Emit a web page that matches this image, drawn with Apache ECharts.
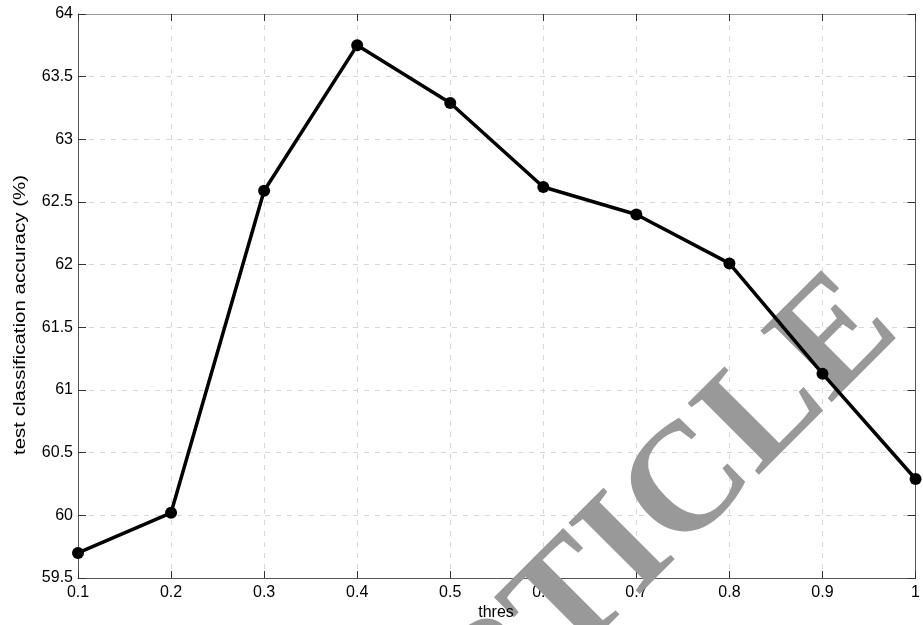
<!DOCTYPE html>
<html>
<head>
<meta charset="utf-8">
<script src="https://cdn.jsdelivr.net/npm/echarts@6/dist/echarts.min.js"></script>
<style>html,body{margin:0;padding:0;background:#fff}#c{width:923px;height:625px}</style>
</head>
<body>
<div id="c"></div>
<script>
var thres = [0.1, 0.2, 0.3, 0.4, 0.5, 0.6, 0.7, 0.8, 0.9, 1.0];
var accuracy = [59.70, 60.02, 62.59, 63.75, 63.29, 62.62, 62.40, 62.01, 61.13, 60.29];
var xTicks = [0.1, 0.2, 0.3, 0.4, 0.5, 0.6, 0.7, 0.8, 0.9, 1];
var yTicks = [59.5, 60, 60.5, 61, 61.5, 62, 62.5, 63, 63.5, 64];
var xName = 'thres';
var yName = 'test classification accuracy (%)';
var watermark = 'ARTICLE';

var chart = echarts.init(document.getElementById('c'));
var font = 'Liberation Sans, Arial, sans-serif';
var axisCol = '#555';
var grid = {left: 78, right: 7, top: 14, bottom: 47};
function fmtX(v){ return Math.abs(v-1)<1e-9 ? '1' : (+v.toFixed(1)).toString(); }
var data = thres.map(function(t,i){ return [t, accuracy[i]]; });
var wmSize = 154;
var option = {
  backgroundColor: '#fff',
  animation: false,
  grid: grid,
  xAxis: [{
    type: 'value', min: xTicks[0], max: xTicks[xTicks.length-1], interval: 0.1,
    axisLine: {show: true, onZero: false, lineStyle: {color: axisCol, width: 1}},
    axisTick: {show: true, inside: true, length: 7, lineStyle: {color: '#333'}},
    axisLabel: {fontFamily: font, fontSize: 16, color: '#000', margin: 7, formatter: fmtX},
    splitLine: {show: true, lineStyle: {color: '#d8d8d8', type: [5, 6], width: 1}}
  }, {
    type: 'value', position: 'top', min: xTicks[0], max: xTicks[xTicks.length-1], interval: 0.1,
    axisLine: {show: true, onZero: false, lineStyle: {color: '#999', width: 1}},
    axisTick: {show: true, inside: true, length: 7, lineStyle: {color: '#333'}},
    axisLabel: {show: false}, splitLine: {show: false}
  }],
  yAxis: [{
    type: 'value', min: yTicks[0], max: yTicks[yTicks.length-1], interval: 0.5,
    axisLine: {show: true, onZero: false, lineStyle: {color: axisCol, width: 1}},
    axisTick: {show: true, inside: true, length: 8, lineStyle: {color: '#333'}},
    axisLabel: {fontFamily: font, fontSize: 16, color: '#000', margin: 5,
      formatter: function(v){ return (+v.toFixed(1)).toString(); }},
    splitLine: {show: true, lineStyle: {color: '#d8d8d8', type: [5, 6], width: 1}}
  }, {
    type: 'value', position: 'right', min: yTicks[0], max: yTicks[yTicks.length-1], interval: 0.5,
    axisLine: {show: true, onZero: false, lineStyle: {color: axisCol, width: 1}},
    axisTick: {show: true, inside: true, length: 8, lineStyle: {color: '#333'}},
    axisLabel: {show: false}, splitLine: {show: false}
  }],
  graphic: [{
    type: 'group', x: 911, y: 340, rotation: Math.PI / 4, z: 1, silent: true,
    children: [{
      type: 'text', x: 0, y: -Math.round(wmSize * 0.3375), z: 1,
      style: {text: watermark, fill: '#999', font: 'bold ' + wmSize + 'px "Liberation Serif", "Times New Roman", serif',
        textAlign: 'right', textVerticalAlign: 'middle'}
    }]
  }, {
    type: 'text', x: 496, y: 613, z: 10, silent: true,
    style: {text: xName, fill: '#000', font: '16px ' + font, textAlign: 'center', textVerticalAlign: 'middle'}
  }, {
    type: 'text', x: 21, y: 315, rotation: Math.PI / 2, scaleX: 1.28, z: 10, silent: true,
    style: {text: yName, fill: '#000', font: '16px ' + font, textAlign: 'center', textVerticalAlign: 'middle'}
  }],
  series: [{
    type: 'line', data: data, z: 5,
    symbol: 'circle', symbolSize: 12,
    lineStyle: {color: '#000', width: 3.5},
    itemStyle: {color: '#000'}
  }]
};
chart.setOption(option);
</script>
</body>
</html>
